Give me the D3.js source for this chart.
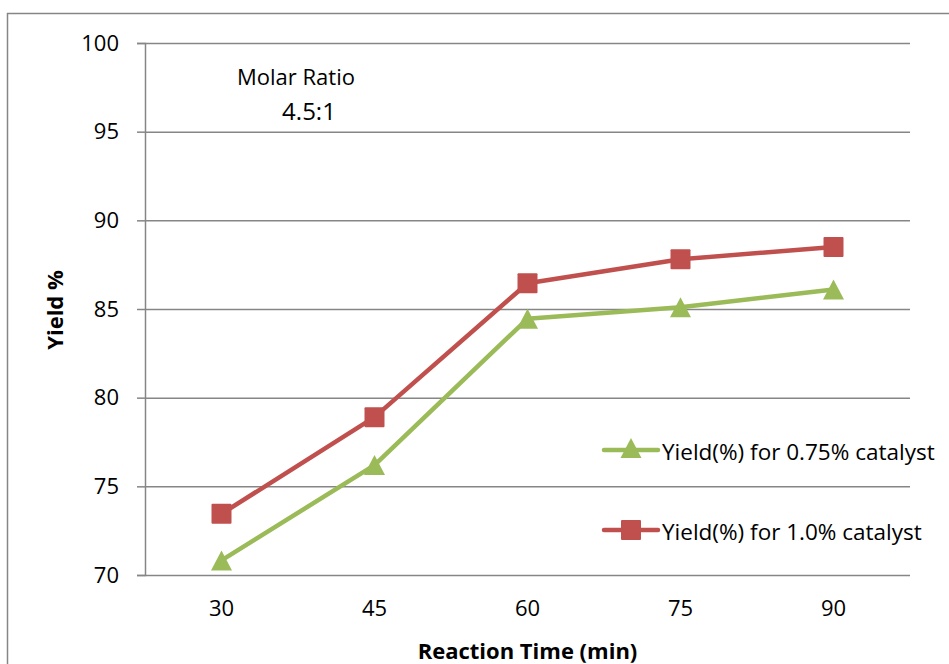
<!DOCTYPE html>
<html>
<head>
<meta charset="utf-8">
<script src="https://cdn.jsdelivr.net/npm/d3@7"></script>
<style>
  body { margin: 0; background: #fff; }
  svg { display: block; font-family: "Open Sans", "Noto Sans", sans-serif; }
</style>
</head>
<body>
<div id="chart"></div>
<script>
// chart data
const times = ["30", "45", "60", "75", "90"];
const yield075 = [70.82, 76.2, 84.45, 85.1, 86.1];
const yield100 = [73.45, 78.9, 86.45, 87.8, 88.5];
const yTicks = [70, 75, 80, 85, 90, 95, 100];
const seriesNames = ["Yield(%) for 0.75% catalyst", "Yield(%) for 1.0% catalyst"];

const width = 949, height = 664;
const margin = { top: 43, right: 39, bottom: 89, left: 145 };

const svg = d3.select("#chart").append("svg")
    .attr("width", width)
    .attr("height", height);

// outer chart border (runs off the right/bottom edges)
svg.append("rect")
    .attr("x", 7.5).attr("y", 13.5)
    .attr("width", 960).attr("height", 700)
    .attr("fill", "none")
    .attr("stroke", "#868686")
    .attr("stroke-width", 1.5);

const x = d3.scaleBand()
    .domain(times)
    .range([margin.left, width - margin.right]);

const y = d3.scaleLinear()
    .domain([70, 100])
    .range([height - margin.bottom, margin.top]);

// y axis with gridlines
svg.append("g")
    .attr("transform", `translate(${margin.left},0)`)
    .call(d3.axisLeft(y).tickValues(yTicks).tickSize(8).tickPadding(18))
    .call(g => g.select(".domain").attr("stroke", "#868686").attr("stroke-width", 1.5))
    .call(g => g.selectAll(".tick line").attr("stroke", "#868686").attr("stroke-width", 1.5))
    .call(g => g.selectAll(".tick").append("line")
        .attr("x2", width - margin.right - margin.left)
        .attr("stroke", "#868686").attr("stroke-width", 1.5))
    .call(g => g.selectAll("text")
        .attr("font-size", 22).attr("fill", "#000")
        .attr("font-family", "Open Sans, sans-serif"));

// x axis
svg.append("g")
    .attr("transform", `translate(0,${height - margin.bottom})`)
    .call(d3.axisBottom(x).tickSize(0).tickPadding(25))
    .call(g => g.select(".domain").remove())
    .call(g => g.selectAll("text")
        .attr("font-size", 22).attr("fill", "#000")
        .attr("font-family", "Open Sans, sans-serif"));

// axis titles
svg.append("text")
    .attr("x", (margin.left + width - margin.right) / 2)
    .attr("y", 659)
    .attr("text-anchor", "middle")
    .attr("font-size", 22).attr("font-weight", "bold")
    .text("Reaction Time (min)");

svg.append("text")
    .attr("transform", "translate(63,310) rotate(-90)")
    .attr("text-anchor", "middle")
    .attr("font-size", 22).attr("font-weight", "bold")
    .text("Yield %");

// annotation
svg.append("text")
    .attr("x", 296).attr("y", 85)
    .attr("text-anchor", "middle")
    .attr("font-size", 22)
    .text("Molar Ratio");
svg.append("text")
    .attr("x", 309).attr("y", 120)
    .attr("text-anchor", "middle")
    .attr("font-size", 24)
    .text("4.5:1");

const cx = (d, i) => x(times[i]) + x.bandwidth() / 2;
const line = d3.line().x(cx).y(d => y(d));

const green = "#9BBB59", red = "#C0504D";
// triangle marker centred on its bounding box, like the spreadsheet marker
const tri = "M0,-10L10.5,10L-10.5,10Z";

// green series
svg.append("path")
    .datum(yield075)
    .attr("d", line)
    .attr("fill", "none")
    .attr("stroke", green)
    .attr("stroke-width", 4.5)
    .attr("stroke-linejoin", "round");
svg.selectAll(".tri")
    .data(yield075)
    .join("path")
    .attr("class", "tri")
    .attr("d", tri)
    .attr("transform", (d, i) => `translate(${cx(d, i)},${y(d)})`)
    .attr("fill", green);

// red series
svg.append("path")
    .datum(yield100)
    .attr("d", line)
    .attr("fill", "none")
    .attr("stroke", red)
    .attr("stroke-width", 4.5)
    .attr("stroke-linejoin", "round");
svg.selectAll(".sq")
    .data(yield100)
    .join("rect")
    .attr("class", "sq")
    .attr("x", (d, i) => cx(d, i) - 10)
    .attr("y", d => y(d) - 10)
    .attr("width", 20).attr("height", 20)
    .attr("rx", 1)
    .attr("fill", red);

// legend
const legend = svg.append("g");
const legendY = [450, 530];
const legendColors = [green, red];
seriesNames.forEach((name, i) => {
    const g = legend.append("g").attr("transform", `translate(0,${legendY[i]})`);
    g.append("line")
        .attr("x1", 604).attr("x2", 658)
        .attr("stroke", legendColors[i]).attr("stroke-width", 4.5)
        .attr("stroke-linecap", "round");
    if (i === 0) {
        g.append("path").attr("d", tri).attr("transform", "translate(631,-2)").attr("fill", green);
    } else {
        g.append("rect").attr("x", 621).attr("y", -10)
            .attr("width", 20).attr("height", 20).attr("rx", 1).attr("fill", red);
    }
    g.append("text")
        .attr("x", 662).attr("y", 2)
        .attr("dy", "0.35em")
        .attr("font-size", 22.5)
        .text(name);
});
</script>
</body>
</html>
